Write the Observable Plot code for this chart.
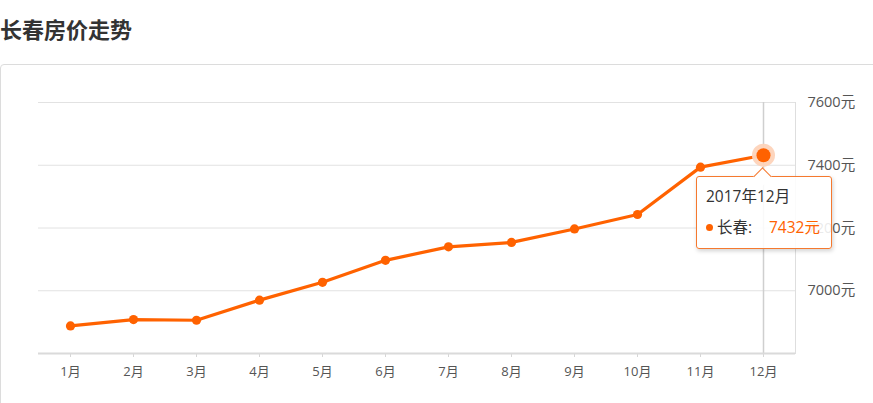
<!DOCTYPE html>
<html>
<head>
<meta charset="utf-8">
<script src="https://cdn.jsdelivr.net/npm/d3@7"></script>
<script src="https://cdn.jsdelivr.net/npm/@observablehq/plot@0.6"></script>
<style>
  html, body { margin: 0; padding: 0; background: #fff; }
  body { font-family: "Open Sans", "Noto Sans CJK SC", sans-serif; }
  #wrap { position: relative; width: 873px; height: 403px; overflow: hidden; }
  #title { position: absolute; left: 0; top: 12px; font-size: 22px; font-weight: bold; color: #333;
           font-family: "Noto Sans CJK SC", sans-serif; line-height: 32px; letter-spacing: 0; }
  #card { position: absolute; left: 0; top: 64px; width: 1000px; height: 500px; border: 1px solid #dcdcdc;
          border-radius: 4px; box-sizing: border-box; }
  #plot { position: absolute; left: 0; top: 64px; }
  #tip { position: absolute; width: 136px; height: 73px; box-sizing: border-box; border: 1px solid #f5792f;
         border-radius: 3px; background: rgba(255,255,255,0.88); box-shadow: 1px 2px 4px rgba(0,0,0,0.18);
         font-size: 15.5px; color: #333; }
  #tip .arrow { position: absolute; left: 59px; top: -7px; width: 12px; height: 12px; background: #fff;
                border-left: 1px solid #f5792f; border-top: 1px solid #f5792f; transform: rotate(45deg); }
  #tip .t1 { position: absolute; left: 9px; top: 7px; white-space: nowrap; }
  #tip .t2 { position: absolute; left: 9px; top: 38px; white-space: nowrap; }
  #tip .dot { display: inline-block; width: 7px; height: 7px; border-radius: 50%; background: #ff6200; vertical-align: middle; margin-right: 4px; position: relative; top: -1px; }
  #tip .val { color: #ff6200; position: absolute; left: 63px; top: 0; }
</style>
</head>
<body>
<div id="wrap">
  <div id="title"></div>
  <div id="card"></div>
  <div id="plot"></div>
  <div id="tip"></div>
</div>
<script>
const chartTitle = "长春房价走势";
const cityName = "长春";
const year = "2017";
const unit = "元";
const months = ["1月","2月","3月","4月","5月","6月","7月","8月","9月","10月","11月","12月"];
const prices = [6888, 6908, 6906, 6970, 7027, 7097, 7140, 7154, 7197, 7243, 7394, 7432];
const yTicks = [7000, 7200, 7400, 7600];
const yDomain = [6800, 7600];
const highlightIndex = 11;

const color = "#ff6200";
const data = months.map((m, i) => ({month: m, price: prices[i]}));
const hi = data[highlightIndex];

document.getElementById("title").textContent = chartTitle;

const chart = Plot.plot({
  width: 873,
  height: 339,
  marginLeft: 38,
  marginRight: 78,
  marginTop: 38,
  marginBottom: 50,
  style: {fontFamily: '"Open Sans", "Noto Sans CJK SC", sans-serif', background: "transparent", overflow: "visible"},
  x: {type: "point", domain: months, padding: 0.5, label: null},
  y: {domain: yDomain, label: null},
  marks: [
    Plot.ruleY(yTicks, {stroke: "#e2e2e2", strokeWidth: 1}),
    Plot.frame({anchor: "right", stroke: "#dedede"}),
    Plot.ruleX([hi.month], {stroke: "#cfcfcf", strokeWidth: 1.5}),
    Plot.axisX({label: null, tickSize: 4, tickPadding: 9, stroke: "#d6d6d6", fill: "#555", fontSize: 13}),
    Plot.ruleY([yDomain[0]], {stroke: "#dadada", strokeWidth: 2}),
    Plot.axisY({label: null, anchor: "right", ticks: yTicks, tickFormat: d => d + unit, tickSize: 0, tickPadding: 12, fill: "#555", fontSize: 14.5}),
    Plot.line(data, {x: "month", y: "price", stroke: color, strokeWidth: 3.2}),
    Plot.dot(data, {x: "month", y: "price", r: 4.6, fill: color}),
    Plot.dot([hi], {x: "month", y: "price", r: 11.5, fill: "#fdd3b9", fillOpacity: 0.95}),
    Plot.dot([hi], {x: "month", y: "price", r: 7, fill: color})
  ]
});
document.getElementById("plot").appendChild(chart);

const sx = chart.scale("x").apply(hi.month);
const sy = chart.scale("y").apply(hi.price);
const tip = document.getElementById("tip");
tip.style.left = (sx - 67) + "px";
tip.style.top = (64 + sy + 21) + "px";
tip.innerHTML = `<div class="arrow"></div>
  <div class="t1">${year}年${hi.month}</div>
  <div class="t2"><span class="dot"></span>${cityName}:<span class="val">${hi.price}${unit}</span></div>`;
</script>
</body>
</html>
